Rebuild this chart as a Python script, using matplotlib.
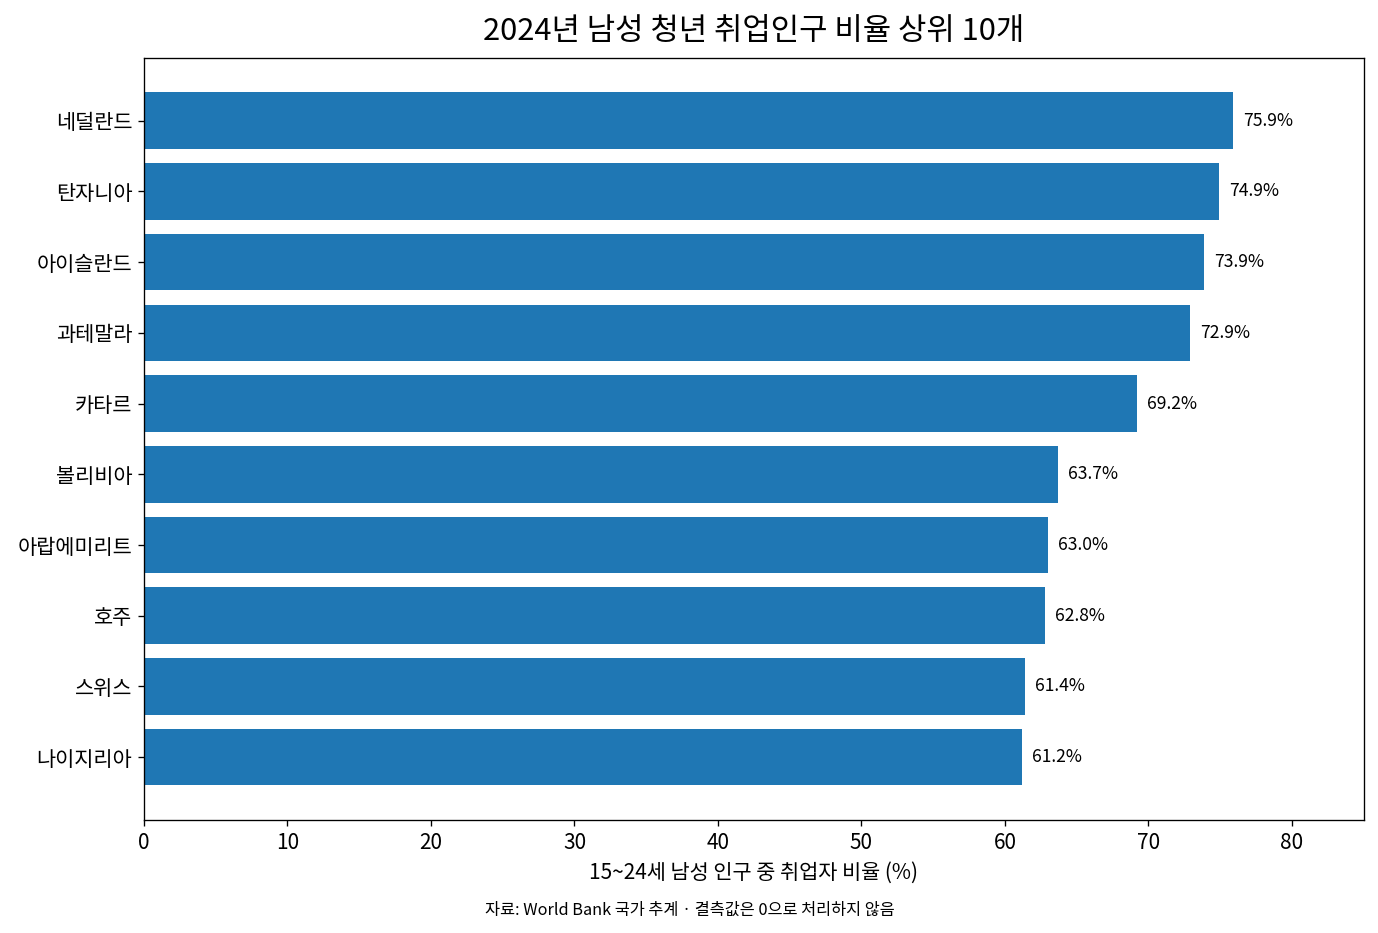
import matplotlib.pyplot as plt

plt.rcParams['font.family'] = ['Noto Sans CJK KR', 'DejaVu Sans']

# 상위 10개 국가 (위에서부터)
countries = ['네덜란드', '탄자니아', '아이슬란드', '과테말라', '카타르',
             '볼리비아', '아랍에미리트', '호주', '스위스', '나이지리아']
values = [75.9, 74.9, 73.9, 72.9, 69.2, 63.7, 63.0, 62.8, 61.4, 61.2]

fig, ax = plt.subplots(figsize=(11.49, 7.775), dpi=120)
fig.subplots_adjust(left=0.1044, right=0.989, top=0.938, bottom=0.121)

bars = ax.barh(countries, values, color='#1f77b4', height=0.8)
ax.invert_yaxis()

for b, v in zip(bars, values):
    ax.annotate(f'{v:.1f}%', xy=(b.get_width(), b.get_y() + b.get_height() / 2),
                xytext=(6, 0), textcoords='offset points',
                va='center', ha='left', fontsize=10.5)

ax.set_xlim(0, 85)
ax.set_xlabel('15~24세 남성 인구 중 취업자 비율 (%)', fontsize=12.5, labelpad=5)
ax.set_title('2024년 남성 청년 취업인구 비율 상위 10개', fontsize=18.5, pad=11)
ax.tick_params(axis='y', labelsize=12.5)
ax.tick_params(axis='x', labelsize=12.5)

fig.text(0.5, 0.024, '자료: World Bank 국가 추계 · 결측값은 0으로 처리하지 않음',
         ha='center', va='center', fontsize=9.8)

fig.savefig('out.png', dpi=120)
